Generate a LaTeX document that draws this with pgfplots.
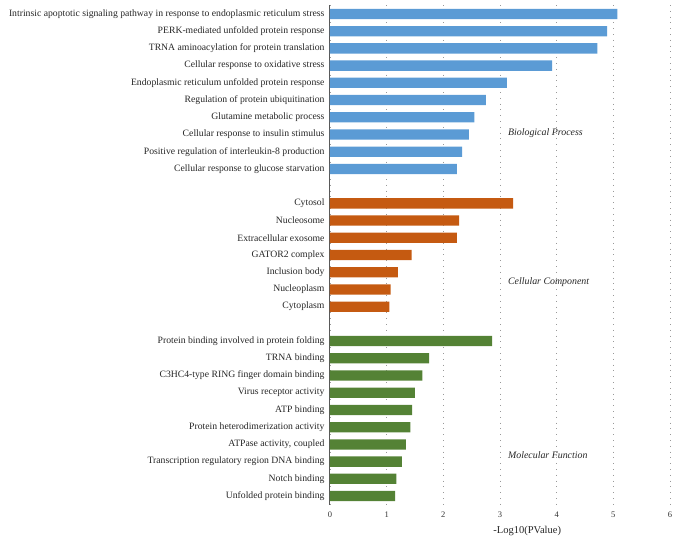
\documentclass[border=0pt]{standalone}
\usepackage{pgfplots}
\pgfplotsset{compat=1.18}
\usepackage{pgfplotstable}
\usepackage{fontspec}
\setmainfont{Liberation Serif}
\definecolor{bpblue}{RGB}{91,155,213}
\definecolor{ccorange}{RGB}{197,90,17}
\definecolor{mfgreen}{RGB}{84,130,53}

\pgfplotstableread{
slot value
0 5.07
1 4.89
2 4.72
3 3.92
4 3.12
5 2.75
6 2.55
7 2.45
8 2.33
9 2.24
}\bp
\pgfplotstableread{
slot value
11 3.23
12 2.28
13 2.24
14 1.44
15 1.20
16 1.07
17 1.05
}\cc
\pgfplotstableread{
slot value
19 2.86
20 1.75
21 1.63
22 1.50
23 1.45
24 1.42
25 1.34
26 1.27
27 1.17
28 1.15
}\mf

\begin{document}
\begin{tikzpicture}
\path[use as bounding box] (-330pt,-39pt) rectangle (348pt,505pt);
\begin{axis}[
  at={(0,0)}, anchor=south west,
  scale only axis,
  width=340pt, height=500pt,
  xmin=0, xmax=6,
  ymin=-0.52, ymax=28.52,
  y dir=reverse,
  xbar, bar shift=0pt, bar width=10.3pt,
  axis lines*=left,
  x axis line style={draw=none},
  y axis line style={draw=black!65, line width=1pt},
  major tick length=0pt,
  xtick={0,1,2,3,4,5,6},
  xmajorgrids,
  major x grid style={dash pattern=on 0.8pt off 5pt, black!40, line width=0.6pt},
  ytick={0,1,2,3,4,5,6,7,8,9,11,12,13,14,15,16,17,19,20,21,22,23,24,25,26,27,28},
  yticklabels={
    Intrinsic apoptotic signaling pathway in response to endoplasmic reticulum stress,
    PERK-mediated unfolded protein response,
    TRNA aminoacylation for protein translation,
    Cellular response to oxidative stress,
    Endoplasmic reticulum unfolded protein response,
    Regulation of protein ubiquitination,
    Glutamine metabolic process,
    Cellular response to insulin stimulus,
    Positive regulation of interleukin-8 production,
    Cellular response to glucose starvation,
    Cytosol,
    Nucleosome,
    Extracellular exosome,
    GATOR2 complex,
    Inclusion body,
    Nucleoplasm,
    Cytoplasm,
    Protein binding involved in protein folding,
    TRNA binding,
    C3HC4-type RING finger domain binding,
    Virus receptor activity,
    ATP binding,
    Protein heterodimerization activity,
    {ATPase activity, coupled},
    Transcription regulatory region DNA binding,
    Notch binding,
    Unfolded protein binding},
  yticklabel style={font=\fontsize{9.7}{11}\selectfont, text=black!85, xshift=-2pt},
  xticklabel style={font=\fontsize{8.5}{10}\selectfont, text=black!80, yshift=-3pt},
  /pgf/number format/assume math mode=true,
  xlabel={-Log10(PValue)},
  xlabel style={font=\fontsize{10.5}{12}\selectfont, text=black!85, at={(axis description cs:0.58,0)}, anchor=north, yshift=-18pt},
]
\addplot[fill=bpblue, draw=none] table[x=value, y=slot] {\bp};
\addplot[fill=ccorange, draw=none] table[x=value, y=slot] {\cc};
\addplot[fill=mfgreen, draw=none] table[x=value, y=slot] {\mf};
\node[anchor=west, font=\itshape\fontsize{9.9}{11}\selectfont, text=black!85] at (axis cs:3.08,6.9) {Biological Process};
\node[anchor=west, font=\itshape\fontsize{9.9}{11}\selectfont, text=black!85] at (axis cs:3.08,15.6) {Cellular Component};
\node[anchor=west, font=\itshape\fontsize{9.9}{11}\selectfont, text=black!85] at (axis cs:3.08,25.6) {Molecular Function};
\end{axis}
\end{tikzpicture}
\end{document}
